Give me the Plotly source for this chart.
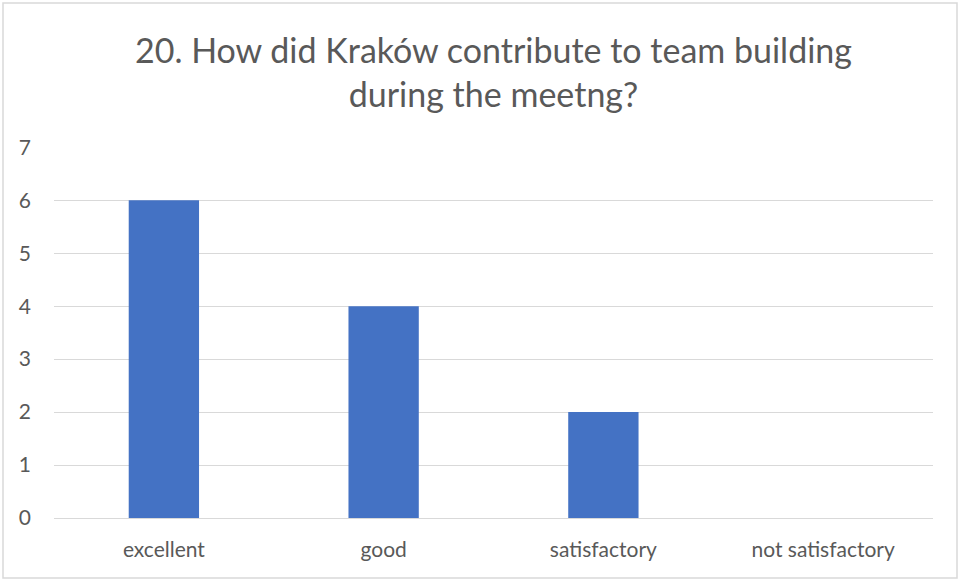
import plotly.graph_objects as go

categories = ["excellent", "good", "satisfactory", "not satisfactory"]
values = [6, 4, 2, 0]
y_ticks = [0, 1, 2, 3, 4, 5, 6, 7]

W, H = 961, 581
L, R, T, B = 54, 28, 147, 63
pw, ph = W - L - R, H - T - B

fig = go.Figure(go.Bar(x=categories, y=values, marker=dict(color="#4472C4", line=dict(width=0))))

fig.update_layout(
    width=W, height=H,
    margin=dict(l=L, r=R, t=T, b=B),
    paper_bgcolor="white", plot_bgcolor="white",
    font=dict(family="Lato, Open Sans, sans-serif", color="#595959", size=21),
    title=dict(text="20. How did Kraków contribute to team building<br>during the meetng?",
               x=0.5, xanchor="center", xref="paper", y=1 - 63 / H, yanchor="middle",
               font=dict(size=34, color="#595959")),
    bargap=0.68,
    showlegend=False,
)
fig.update_xaxes(showgrid=False, showline=False, ticks="", ticklabelstandoff=17,
                 tickfont=dict(size=21, color="#595959"))
fig.update_yaxes(range=[0, 7.005], tickvals=y_ticks, showgrid=True, gridcolor="#D9D9D9", gridwidth=1,
                 zeroline=True, zerolinecolor="#D9D9D9", zerolinewidth=1, ticks="",
                 ticklabelstandoff=22, tickfont=dict(size=21, color="#595959"))

fig.add_shape(type="rect", xref="paper", yref="paper",
              x0=(3 - L) / pw, x1=(957 - L) / pw,
              y0=(H - B - 578) / ph, y1=(H - B - 3) / ph,
              line=dict(color="#D9D9D9", width=1.5), fillcolor="rgba(0,0,0,0)", layer="below")

fig.write_html("out.html", config={"displayModeBar": False},
               post_script="document.body.style.margin='0';document.body.style.overflow='hidden';")
